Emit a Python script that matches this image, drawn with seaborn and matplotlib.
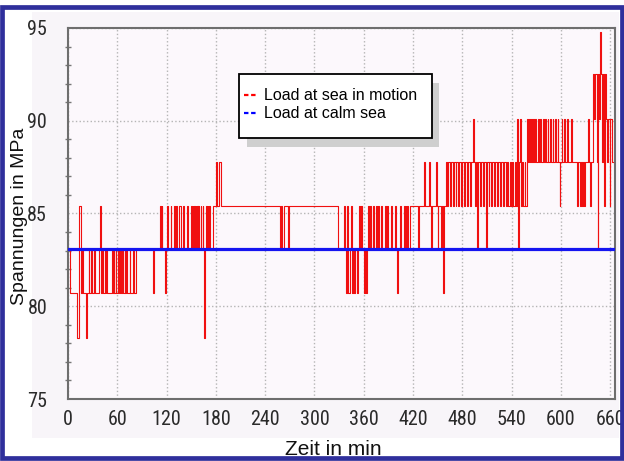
import matplotlib
matplotlib.use("Agg")
import matplotlib.pyplot as plt
import seaborn as sns
import numpy as np
import pandas as pd
from matplotlib.lines import Line2D
from matplotlib.patches import Rectangle

# -------------------------
# data
# -------------------------
# red signal: step changes (time in min, stress in MPa)
red_t = [0, 2, 11.5, 13, 14, 15.5, 17, 18, 21.5, 23, 25, 26, 28.4, 29.5, 31.3, 32.3,
         37.8, 38.6, 39.6, 41.8, 42.8, 44.7, 45.7, 46.6, 47.5, 54, 55, 55.7, 56.6, 58.1,
         59, 60.9, 62, 63, 64, 66.2, 67.2, 69.1, 70, 71.1, 72, 75.1, 76, 79.1, 80, 82.4,
         104, 105, 112, 113, 114, 115, 118, 119, 120.5, 121.5, 125, 126,
         129, 130.5, 131.5, 133, 135.5, 137, 139.6, 141, 144.9, 146, 149.5, 150.5, 151.7,
         152.7, 153.8, 154.5, 155.3, 156.2, 157, 158, 158.8, 160, 161.5, 162.5, 163.9,
         164.8, 165.6, 166.5, 167.9, 169, 170, 171, 172, 173, 176.1, 180, 181.5, 184, 186,
         258, 259, 260, 262.5, 268, 269.5, 328.8,
         336, 337, 338.5, 340, 341, 343, 344.5, 345.5, 347, 348.5, 350, 351.5, 352.5, 354,
         355, 357, 358, 360.5, 362, 363, 364, 365.5, 366.5, 367.4, 368.5, 371.5, 372.5,
         375.5, 376.5, 378, 379, 381.6, 382.6, 385.6, 386.6, 389, 390, 393.8, 394.8, 397.8,
         399, 400.6, 401.6, 404, 405, 409, 410, 411, 412, 413, 414.5, 416, 425.8, 427,
         433.9, 435, 440, 441, 442, 443, 448, 449, 450, 451, 454, 455, 457, 458,
         460, 462, 463, 465.5, 466.5, 469, 470, 472, 473, 475, 476, 479, 480, 482, 483,
         486, 487, 490, 491, 493.7, 494.5, 496, 497, 498.5, 499.5, 502, 503, 505, 506,
         508.7, 509.7, 512, 513, 515, 516, 519, 520, 522, 523, 526, 527, 530, 531, 533,
         534, 536, 538, 539, 541, 542, 544, 545, 547, 548, 549, 550, 551.5, 553, 554, 556,
         557, 559, 560, 561.5, 562.5, 564, 565, 566.5, 567.5, 569, 570, 572, 573, 575,
         576.5, 578, 579, 581, 582, 584, 585, 587, 588, 590, 591, 593, 594, 596, 597,
         598.5, 599.5, 601, 602, 604, 605, 608, 609, 613, 614, 620, 621, 623, 624, 625.5,
         627, 628, 630, 633, 634, 636, 637, 639.5, 641, 642, 643.5, 645, 645.8, 647, 648,
         649, 650.5, 651.5, 653, 654, 655, 656.5, 658, 659.5, 660.5, 662, 664]
red_v = [83.1, 80.7, 78.3, 80.7, 85.4, 80.7, 83.1, 80.7, 78.3, 80.7, 83.1, 80.7, 83.1, 80.7, 83.1, 80.7,
         83.1, 85.4, 80.7, 83.1, 80.7, 83.1, 80.7, 83.1, 80.7, 83.1, 80.7, 83.1, 80.7, 83.1,
         80.7, 83.1, 80.7, 83.1, 80.7, 83.1, 80.7, 83.1, 80.7, 83.1, 80.7, 83.1, 80.7, 83.1, 80.7, 83.1,
         80.7, 83.1, 85.4, 83.1, 85.4, 83.1, 80.7, 83.1, 85.4, 83.1, 85.4, 83.1,
         85.4, 83.1, 85.4, 83.1, 85.4, 83.1, 85.4, 83.1, 85.4, 83.1, 85.4, 83.1, 85.4,
         83.1, 85.4, 83.1, 85.4, 83.1, 85.4, 83.1, 85.4, 83.1, 85.4, 83.1, 85.4,
         83.1, 78.3, 83.1, 85.4, 83.1, 85.4, 83.1, 85.4, 83.1, 85.4, 87.8, 85.4, 87.8, 85.4,
         83.1, 85.4, 83.1, 85.4, 83.1, 85.4, 83.1,
         85.4, 83.1, 80.7, 85.4, 80.7, 83.1, 85.4, 80.7, 83.1, 80.7, 83.1, 80.7, 83.1, 85.4,
         83.1, 85.4, 83.1, 80.7, 83.1, 80.7, 83.1, 85.4, 83.1, 85.4, 83.1, 85.4, 83.1,
         85.4, 83.1, 85.4, 83.1, 85.4, 83.1, 85.4, 83.1, 85.4, 83.1, 85.4, 83.1, 85.4,
         83.1, 80.7, 83.1, 85.4, 83.1, 85.4, 83.1, 85.4, 83.1, 85.4, 83.1, 85.4, 83.1, 85.4,
         87.8, 85.4, 87.8, 85.4, 83.1, 85.4, 87.8, 85.4, 83.1, 85.4, 83.1, 85.4, 80.7, 85.4,
         87.8, 85.4, 87.8, 85.4, 87.8, 85.4, 87.8, 85.4, 87.8, 85.4, 87.8, 85.4, 87.8, 85.4, 87.8,
         85.4, 87.8, 85.4, 87.8, 90.1, 87.8, 85.4, 87.8, 83.1, 87.8, 85.4, 87.8, 85.4, 87.8,
         83.1, 87.8, 85.4, 87.8, 85.4, 87.8, 85.4, 87.8, 85.4, 87.8, 85.4, 87.8, 85.4, 87.8, 85.4,
         87.8, 85.4, 87.8, 85.4, 87.8, 85.4, 87.8, 85.4, 90.1, 83.1, 87.8, 90.1, 85.4, 87.8, 85.4, 87.8,
         85.4, 90.1, 87.8, 90.1, 87.8, 90.1, 87.8, 90.1, 87.8, 90.1, 87.8, 90.1, 87.8, 90.1,
         87.8, 90.1, 87.8, 90.1, 87.8, 90.1, 87.8, 90.1, 87.8, 90.1, 87.8, 90.1, 87.8, 90.1, 87.8,
         85.4, 87.8, 90.1, 87.8, 90.1, 87.8, 90.1, 87.8, 90.1, 87.8, 85.4, 87.8, 85.4, 87.8, 85.4,
         87.8, 85.4, 87.8, 90.1, 87.8, 85.4, 87.8, 92.5, 90.1, 92.5, 87.8, 83.1, 92.5, 90.1, 94.8,
         92.5, 87.8, 92.5, 85.4, 92.5, 90.1, 87.8, 90.1, 85.4, 90.1, 87.8, 87.8]

# blue reference line (calm sea)
blue_t = [0, 664]
blue_v = [83.1, 83.1]

legend_labels = ["Load at sea in motion", "Load at calm sea"]
x_ticks = list(range(0, 661, 60))
y_ticks = [75, 80, 85, 90, 95]

red_df = pd.DataFrame({"t": red_t, "v": red_v})
blue_df = pd.DataFrame({"t": blue_t, "v": blue_v})

# -------------------------
# figure
# -------------------------
W, H = 624, 461
fig = plt.figure(figsize=(W / 100, H / 100), dpi=100)
fig.patch.set_facecolor("white")


def px_rect(x0, y0, x1, y1, **kw):
    # rectangle given in image pixels (origin top-left)
    return Rectangle((x0 / W, 1 - y1 / H), (x1 - x0) / W, (y1 - y0) / H,
                     transform=fig.transFigure, **kw)


# light tinted plot background and outer frame
fig.add_artist(px_rect(32, 12, 619, 438, facecolor="#f8f5f9", edgecolor="none", zorder=0))
fig.add_artist(px_rect(2, 7.5, 622, 458, facecolor="none", edgecolor="#2f2f9c",
                       linewidth=3.4, zorder=10))

ax = fig.add_axes([68 / W, 1 - 399 / H, (615 - 68) / W, (399 - 28) / H])
ax.set_facecolor("#fcf8fc")

sns.lineplot(data=red_df, x="t", y="v", ax=ax, color="#f01010", linewidth=0.8,
             drawstyle="steps-post", estimator=None, sort=False, zorder=3)
sns.lineplot(data=blue_df, x="t", y="v", ax=ax, color="#1515f0", linewidth=2.3,
             estimator=None, zorder=4)

ax.set_xlim(0, 666)
ax.set_ylim(75, 95)
ax.set_xticks(x_ticks)
ax.set_yticks(y_ticks)
ax.set_yticks(np.arange(75, 96, 1), minor=True)

tick_font = ["Liberation Sans Narrow", "Roboto Condensed", "DejaVu Sans Condensed",
             "Liberation Sans", "DejaVu Sans"]
for lab in ax.get_xticklabels() + ax.get_yticklabels():
    lab.set_fontfamily(tick_font)
    lab.set_fontsize(14.5)
    lab.set_color("#2a2a2a")
ax.tick_params(axis="x", which="major", length=0, pad=8)
ax.tick_params(axis="y", which="major", length=0, pad=15)
ax.tick_params(axis="y", which="minor", length=5, direction="inout", color="#777777", width=1)

ax.grid(True, which="major", color="#b5b5b5", linestyle=":", linewidth=1.0, zorder=1)
ax.set_axisbelow(True)
for s in ax.spines.values():
    s.set_color("#6e6e6e")
    s.set_linewidth(1.5)

ax.set_xlabel("")
ax.set_ylabel("")
fig.text(333 / W, 1 - 455 / H, "Zeit in min", ha="center", va="baseline", fontsize=15,
         family=["Liberation Sans", "DejaVu Sans"], color="#111111")
fig.text(20 / W, 1 - 216 / H, "Spannungen in MPa", ha="center", va="center", rotation=90,
         fontsize=14, family=["Liberation Sans", "DejaVu Sans"], color="#111111")

# legend box with drop shadow
fig.add_artist(px_rect(247, 83, 439, 147, facecolor="#cfcfcf", edgecolor="none", zorder=5))
fig.add_artist(px_rect(239, 74, 432, 138, facecolor="white", edgecolor="black",
                       linewidth=1.3, zorder=6))
handles = [Line2D([], [], color="#ff0000", linestyle=(0, (2, 1.2)), linewidth=1.6),
           Line2D([], [], color="#0000ff", linestyle=(0, (2, 1.2)), linewidth=1.6)]
leg = fig.legend(handles, legend_labels, loc="upper left",
                 bbox_to_anchor=(233 / W, 1 - 77 / H), bbox_transform=fig.transFigure,
                 frameon=False, handlelength=0.8, handletextpad=0.45, labelspacing=0.2,
                 borderpad=0.2, prop={"family": "Liberation Sans", "size": 11.5})
leg.set_zorder(7)

plt.savefig("out.png", dpi=100)
